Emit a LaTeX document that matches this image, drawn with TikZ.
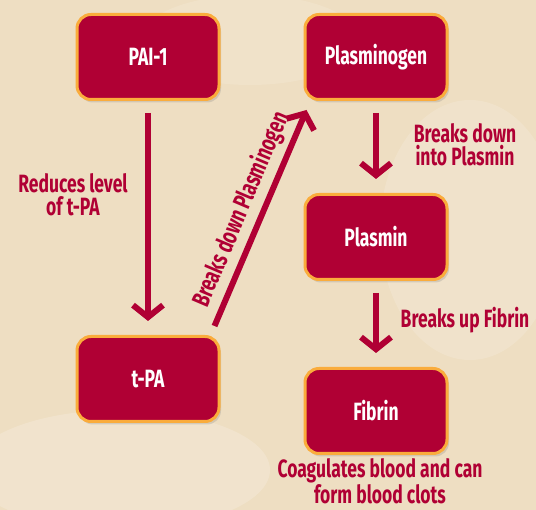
\documentclass[tikz,border=0pt]{standalone}
\usepackage{fontspec}
\setmainfont{Fira Sans}[FakeStretch=0.7]
\usetikzlibrary{arrows.meta, positioning, calc, shadows}
\definecolor{boxcolor} {RGB}{176, 0, 52}
\definecolor{edgecolor}{RGB}{250, 172, 60}
\definecolor{bgcolor}  {RGB}{238, 222, 194}
\tikzset{
	baseblock/.style={
		rectangle, rounded corners=14pt,
		minimum width=142pt, minimum height=85pt,
		align=center, font=\bfseries\fontsize{25}{27}\selectfont,
		fill=boxcolor, text=white,
		draw=edgecolor, line width=3pt,
		drop shadow={opacity=0.25, shadow xshift=2pt, shadow yshift=-3pt}
	},
	arrow/.style={
		-{Straight Barb[length=12pt, width=30pt]}, line width=6pt, color=boxcolor
	},
	labeltext/.style={
		align=center, text=boxcolor, inner sep=1pt,
		font=\bfseries\fontsize{25}{23}\selectfont
	}
}
\begin{document}
\begin{tikzpicture}[x=1pt, y=-1pt]
		
		%% background
		\useasboundingbox (0,0) rectangle (536,510);
		\fill[bgcolor] (0,0) rectangle (536,510);
		\begin{scope}
			\clip (0,0) rectangle (536,510);
			\fill[white, opacity=0.18] (120,470) ellipse [x radius=150, y radius=60];
			\fill[white, opacity=0.15] (470,230) ellipse [x radius=90, y radius=130];
			\fill[white, opacity=0.12] (250,40) ellipse [x radius=110, y radius=45];
		\end{scope}
		
		%% ═══════════════════════════════
		%%  LEFT column
		%% ═══════════════════════════════
		\node[baseblock] (pai) at (148,57) {PAI-1};
		\node[baseblock] (tpa) at (148,379) {t-PA};
		
		%% ═══════════════════════════════
		%%  RIGHT column
		%% ═══════════════════════════════
		\node[baseblock] (plg) at (376,57) {Plasminogen};
		\node[baseblock] (plm) at (376,237) {Plasmin};
		\node[baseblock] (fib) at (376,411) {Fibrin};
		
		%% labels
		\node[labeltext] (lblreduce) at (73,195) {Reduces level\\of t-PA};
		\node[labeltext] (lblinto) at (465,145) {Breaks down\\into Plasmin};
		\node[labeltext] (lblfibrin) at (465,320) {Breaks up Fibrin};
		\node[labeltext] (lblclot) at (380,481) {Coagulates blood and can\\form blood clots};
		
		% PAI-1 -> t-PA
		\draw[arrow, shorten <=12pt, shorten >=14pt] (pai) -- (tpa);
		
		% t-PA -> Plasminogen (diagonal)
		\draw[arrow] ($(tpa.north east)+(-6,-9)$) -- ($(plg.south west)+(3,9)$)
			node[labeltext, midway, above=4pt, sloped] (lblbreak) {Breaks down Plasminogen};
		
		% Plasminogen -> Plasmin -> Fibrin
		\draw[arrow, shorten <=12pt, shorten >=14pt] (plg) -- (plm);
		\draw[arrow, shorten <=12pt, shorten >=14pt] (plm) -- (fib);

	\end{tikzpicture}
\end{document}
